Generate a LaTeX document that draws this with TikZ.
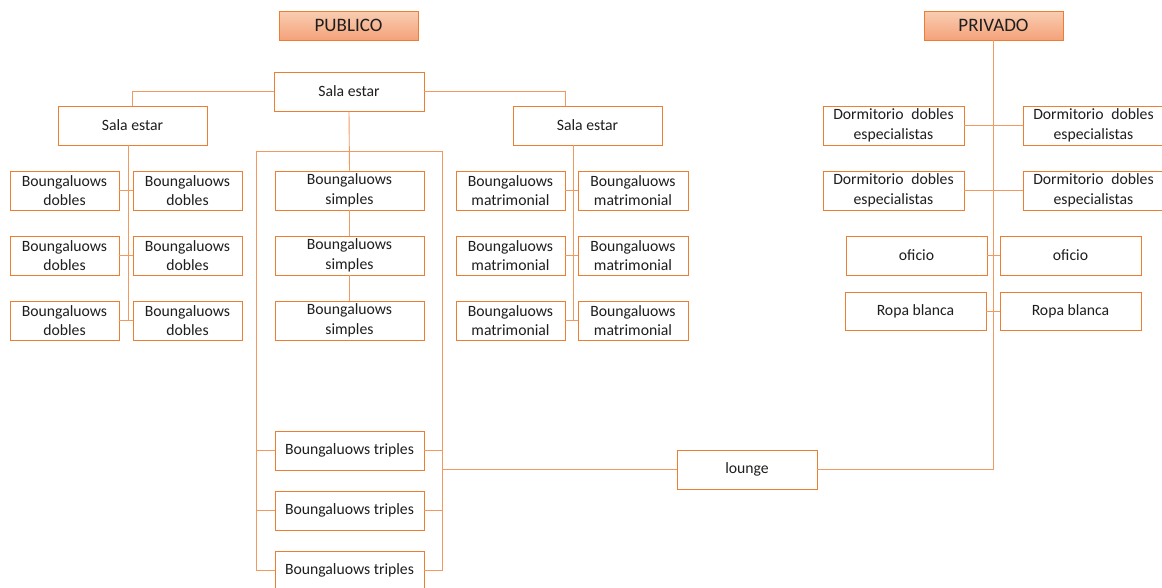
\documentclass[tikz,border=0pt]{standalone}
\usepackage{fontspec}
\setmainfont{Carlito}
\definecolor{orbord}{HTML}{ED7D31}
\definecolor{orline}{HTML}{F09A62}
\definecolor{hdtop}{HTML}{F9CDB2}
\definecolor{hdbot}{HTML}{F4A27A}
\definecolor{txt}{HTML}{1E1E1E}
\tikzset{
  box/.style={draw=orbord, line width=0.9pt, fill=white, inner sep=0pt, align=center,
    text=txt, font=\fontsize{15.7}{19.5}\selectfont},
  hdr/.style={box, top color=hdtop, bottom color=hdbot, minimum width=139pt, minimum height=29pt,
    font=\fontsize{19}{22}\selectfont},
  ln/.style={draw=orline, line width=0.9pt}
}
\begin{document}
\begin{tikzpicture}[x=1pt,y=-1pt]
\useasboundingbox (0,0) rectangle (1162,587);
\clip (0,0) rectangle (1162,587);
% trunk coordinates
\coordinate (lv) at (128,0);
\coordinate (rv) at (573,0);
\coordinate (jr) at (565,0);
\coordinate (bktL) at (256,151);
\coordinate (bktR) at (442,151);

% headers
\node[hdr] (pu) at (348.5,25.5) {PUBLICO};
\node[hdr] (pv) at (993.5,25.5) {PRIVADO};

% sala estar
\node[box, minimum width=150pt, minimum height=39pt] (sc) at (349,91.5) {Sala estar};
\node[box, minimum width=149pt, minimum height=39pt] (sl) at (132.5,125.5) {Sala estar};
\node[box, minimum width=149pt, minimum height=39pt] (sr) at (587.5,125.5) {Sala estar};

% dobles, simples, matrimonial
\foreach \r/\y in {1/190.5,2/255.5,3/320.5}{
  \node[box, minimum width=109pt, minimum height=39pt] (d\r1) at (64.5,\y) {Boungaluows\\dobles};
  \node[box, minimum width=109pt, minimum height=39pt] (d\r2) at (187.5,\y) {Boungaluows\\dobles};
  \node[box, minimum width=109pt, minimum height=39pt] (m\r1) at (510.5,\y) {Boungaluows\\matrimonial};
  \node[box, minimum width=110pt, minimum height=39pt] (m\r2) at (633,\y) {Boungaluows\\matrimonial};
  \node[box, minimum width=149pt, minimum height=39pt] (s\r) at (349.5,\y) {Boungaluows\\simples};
}
% triples
\foreach \r/\y in {1/450.5,2/510.5,3/570.5}{
  \node[box, minimum width=149pt, minimum height=39pt] (t\r) at (349.5,\y) {Boungaluows triples};
}
% lounge
\node[box, minimum width=140pt, minimum height=39pt] (lo) at (747,469.5) {lounge};

% private
\node[box, minimum width=141pt, minimum height=39pt] (p11) at (893.5,125.5) {Dormitorio\hspace{0.5em}dobles\\especialistas};
\node[box, minimum width=141pt, minimum height=39pt] (p12) at (1093.5,125.5) {Dormitorio\hspace{0.5em}dobles\\especialistas};
\node[box, minimum width=141pt, minimum height=39pt] (p21) at (893.5,190.5) {Dormitorio\hspace{0.5em}dobles\\especialistas};
\node[box, minimum width=141pt, minimum height=39pt] (p22) at (1093.5,190.5) {Dormitorio\hspace{0.5em}dobles\\especialistas};
\node[box, minimum width=141pt, minimum height=39pt] (o1) at (916.5,255.5) {oficio};
\node[box, minimum width=141pt, minimum height=39pt] (o2) at (1070.5,255.5) {oficio};
\node[box, minimum width=141pt, minimum height=38pt] (r1) at (915.5,311) {Ropa blanca};
\node[box, minimum width=141pt, minimum height=38pt] (r2) at (1070.5,311) {Ropa blanca};

% connectors
\draw[ln] (sc.west) -| (sl.north);
\draw[ln] (sc.east) -| (jr |- sr.north);
\draw[ln] (sl.south -| lv) -- (lv |- d31.east);
\draw[ln] (sr.south -| rv) -- (rv |- m31.east);
\foreach \r in {1,2,3}{
  \draw[ln] (d\r1.east) -- (d\r2.west);
  \draw[ln] (m\r1.east) -- (m\r2.west);
}
\draw[ln] (sc.south) -- (s1.north);
\draw[ln] (s1.south) -- (s2.north);
\draw[ln] (s2.south) -- (s3.north);
\draw[ln] (bktL |- t3.west) -- (bktL) -- (bktR) -- (bktR |- t3.east);
\foreach \r in {1,2,3}{
  \draw[ln] (bktL |- t\r.west) -- (t\r.west);
  \draw[ln] (t\r.east) -- (bktR |- t\r.east);
}
\draw[ln] (bktR |- lo.west) -- (lo.west);
\draw[ln] (lo.east) -| (pv.south);
\draw[ln] (p11.east) -- (p12.west);
\draw[ln] (p21.east) -- (p22.west);
\draw[ln] (o1.east) -- (o2.west);
\draw[ln] (r1.east) -- (r2.west);
\end{tikzpicture}
\end{document}
